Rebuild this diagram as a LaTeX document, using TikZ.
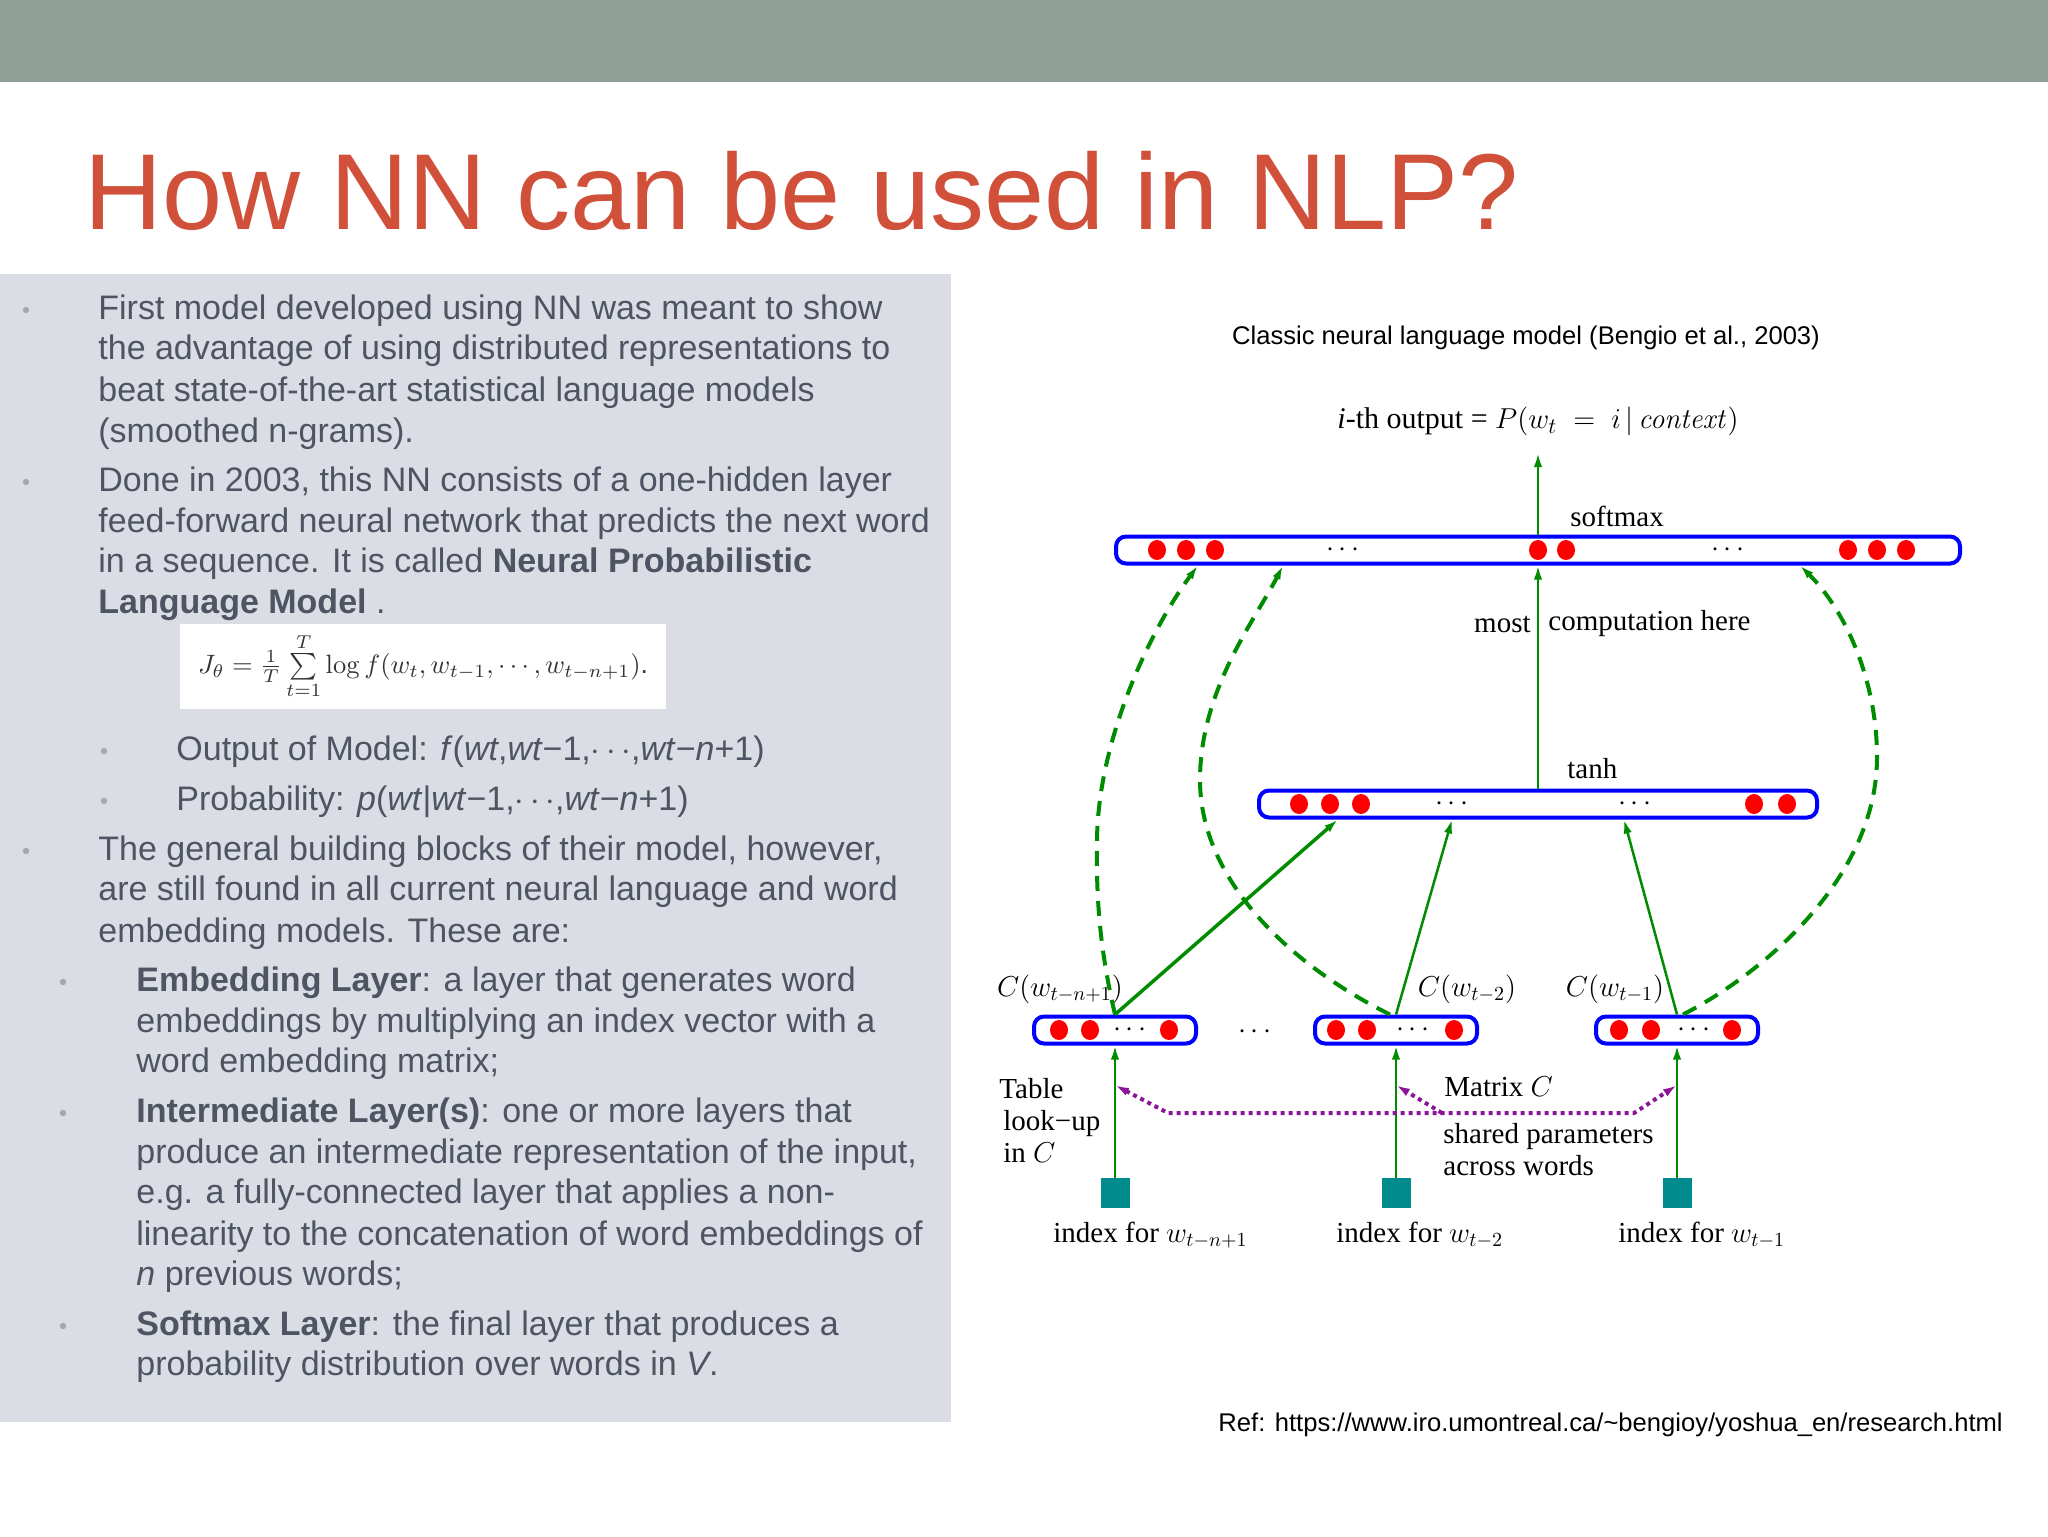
\documentclass[tikz,border=0pt]{standalone}
\usepackage[no-math]{fontspec}
\setmainfont{Liberation Sans}
\newfontfamily\tms{Liberation Serif}
\usepackage{graphicx}
\usetikzlibrary{arrows.meta,positioning,calc}

\definecolor{band}{HTML}{8FA098}
\definecolor{ttl}{HTML}{D0503A}
\definecolor{panel}{HTML}{DADDE4}
\definecolor{bodytxt}{HTML}{4F5462}
\definecolor{bul}{HTML}{A3A9AB}
\definecolor{nngreen}{RGB}{0,140,0}
\definecolor{nnteal}{RGB}{0,140,140}
\definecolor{nnpurple}{RGB}{140,20,150}

\begin{document}
\begin{tikzpicture}[x=0.5pt, y=-0.5pt,
    >={Latex[length=7pt,width=4.2pt]},
    body/.style={anchor=base west, inner sep=0, text=bodytxt, font=\fontsize{17}{20}\selectfont},
    bar/.style={draw=blue, line width=2pt, fill=white, rounded corners=5pt,
                minimum height=13.5pt, inner sep=0},
    idx/.style={fill=nnteal, minimum width=14.5pt, minimum height=15pt, inner sep=0},
    lbl/.style={inner sep=0, font=\tms\fontsize{14.5}{16}\selectfont},
    dts/.style={inner sep=0, font=\fontsize{15}{15}\selectfont},
    arr/.style={->, nngreen, line width=1.25pt},
    direct/.style={arr, line width=2pt, dash pattern=on 7.5pt off 5pt},
    shr/.style={nnpurple, line width=2pt, dash pattern=on 2pt off 2pt},
    neuron/.style={fill=red}
]
\useasboundingbox (0,0) rectangle (2048,1536);
\fill[white] (0,0) rectangle (2048,1536);

% slide frame
\fill[band] (0,0) rectangle (2048,82);
\node[anchor=base west, inner sep=0, text=ttl, font=\fontsize{54}{60}\selectfont] (title)
    at (84,229) {How NN can be used in NLP?};
\fill[panel] (0,274) rectangle (951,1422);

% left column text
\foreach \y/\t [count=\i] in {
    319/{First model developed using NN was meant to show},
    359/{the advantage of using distributed representations to},
    401/{beat state-of-the-art statistical language models},
    442/{(smoothed n-grams).},
    491/{Done in 2003, this NN consists of a one-hidden layer},
    532/{feed-forward neural network that predicts the next word},
    572/{in a sequence. It is called \textbf{Neural Probabilistic}},
    613/{\textbf{Language Model} .},
    860/{The general building blocks of their model, however,},
    900/{are still found in all current neural language and word},
    942/{embedding models. These are:}}
    \node[body] (pa\i) at (98,\y) {\t};
\foreach \y/\t [count=\i] in {
    760/{Output of Model: \textit{f}(\textit{wt},\textit{wt}−1,$\cdots$,\textit{wt}−\textit{n}+1)},
    810/{Probability: \textit{p}(\textit{wt}|\textit{wt}−1,$\cdots$,\textit{wt}−\textit{n}+1)}}
    \node[body] (pb\i) at (176,\y) {\t};
\foreach \y/\t [count=\i] in {
    991/{\textbf{Embedding Layer}: a layer that generates word},
    1032/{embeddings by multiplying an index vector with a},
    1072/{word embedding matrix;},
    1122/{\textbf{Intermediate Layer(s)}: one or more layers that},
    1163/{produce an intermediate representation of the input,},
    1203/{e.g. a fully-connected layer that applies a non-},
    1245/{linearity to the concatenation of word embeddings of},
    1285/{\textit{n} previous words;},
    1335/{\textbf{Softmax Layer}: the final layer that produces a},
    1375/{probability distribution over words in \textit{V}.}}
    \node[body] (pc\i) at (136,\y) {\t};
\foreach \x/\y in {26/310, 26/482, 104/751, 104/801, 26/851, 63/982, 63/1113, 63/1326}
    \fill[bul] (\x,\y) circle [radius=1.6pt];

\node[fill=white, minimum width=243pt, minimum height=42.5pt, inner sep=0, text=black!80] (eq)
    at (423,666) {\resizebox{225pt}{!}{$J_\theta = \frac{1}{T}\sum\limits_{t=1}^{T} \log f(w_t, w_{t-1}, \cdots, w_{t-n+1})$.}};

% network
\node[anchor=base, inner sep=0, font=\fontsize{12.8}{14}\selectfont] (cap)
    at (1526,344) {Classic neural language model (Bengio et al., 2003)};

\node[bar, minimum width=422pt] (smax) at (1538,550) {};
\node[bar, minimum width=279pt] (tanh) at (1538,804) {};
\node[bar, minimum width=81pt] (e1) at (1115,1030) {};
\node[bar, minimum width=81pt] (e2) at (1396,1030) {};
\node[bar, minimum width=81pt] (e3) at (1677,1030) {};

\node[idx] (s1) at (1115,1193) {};
\node[idx] (s2) at (1396,1193) {};
\node[idx] (s3) at (1677,1193) {};

\foreach \x in {1157,1186,1215,1538,1566,1848,1877,1906}
    \fill[neuron] (\x,550) ellipse [x radius=4.5pt, y radius=5pt];
\foreach \x in {1299,1330,1361,1754,1787}
    \fill[neuron] (\x,804) ellipse [x radius=4.5pt, y radius=5pt];
\foreach \x in {1059,1090,1169,1336,1367,1454,1619,1651,1732}
    \fill[neuron] (\x,1030) ellipse [x radius=4.5pt, y radius=5pt];
\foreach \x/\y [count=\i] in {1343/550, 1728/550, 1452/804, 1635/804,
                              1130/1030, 1413/1030, 1694/1030, 1255/1032}
    \node[dts] (dt\i) at (\x,\y) {$\cdots$};

\node[lbl, font=\tms\fontsize{15}{16}\selectfont, outer sep=8.5pt, above=40.75pt of smax] (out)
    {\textit{i}-th output = $P(w_t\;=\;i\,|\,\mathit{context})$};
\node[lbl, anchor=west] (lsm) at (1570,516) {softmax};
\node[lbl, anchor=east] (lmost) at (1531,624) {most};
\node[lbl, anchor=west] (lcomp) at (1548,624) {computation here};
\node[lbl, anchor=west] (ltanh) at (1567,769) {tanh};

\node[lbl] (ce1) at (1060,989) {$C(w_{t-n+1})$};
\node[lbl] (ce2) at (1467,989) {$C(w_{t-2})$};
\node[lbl] (ce3) at (1615,989) {$C(w_{t-1})$};

\node[lbl, align=left, anchor=north west] (tab) at (999,1078) {Table\\ \hspace*{2pt}look−up\\ \hspace*{2pt}in $C$};
\node[lbl, anchor=west] (mtx) at (1444,1087) {Matrix $C$};
\node[lbl, align=left, anchor=north west] (shp) at (1443,1123) {shared parameters\\across words};

\node[lbl, anchor=west] (ix1) at (1053,1235) {index for $w_{t-n+1}$};
\node[lbl, anchor=west] (ix2) at (1336,1235) {index for $w_{t-2}$};
\node[lbl, anchor=west] (ix3) at (1618,1235) {index for $w_{t-1}$};

% connections
\draw[arr] (smax) -- (out);
\draw[arr] (tanh) -- (smax);
\draw[arr, line width=1.75pt] (e1.north) -- ([xshift=-100pt]tanh.south);
\draw[arr] (e2.north) -- ([xshift=-43pt]tanh.south);
\draw[arr] (e3.north) -- ([xshift=43pt]tanh.south);
\draw[arr] (s1) -- (e1);
\draw[arr] (s2) -- (e2);
\draw[arr] (s3) -- (e3);

% direct connections to the output layer
\draw[direct] (e1.north) .. controls (1100,950) and (1096,900) .. (1097,840)
    .. controls (1098,740) and (1150,630) .. ([xshift=-170pt]smax.south);
\draw[direct] ([xshift=-3pt]e2.north) .. controls (1290,965) and (1200,880) .. (1200,780)
    .. controls (1200,690) and (1255,620) .. ([xshift=-127.5pt]smax.south);
\draw[direct] ([xshift=3pt]e3.north) .. controls (1760,975) and (1877,880) .. (1877,757)
    .. controls (1877,680) and (1845,610) .. ([xshift=131pt]smax.south);

% shared matrix C
\coordinate (t1) at ($(e1.south)!.3!(s1.north)$);
\coordinate (t2) at ($(e2.south)!.3!(s2.north)$);
\coordinate (t3) at ($(e3.south)!.3!(s3.north)$);
\coordinate (hl) at (1168,1113);
\coordinate (hm) at (1442,1113);
\coordinate (hr) at (1634,1113);
\draw[shr, <->] (t1) -- (hl) -- (hr) -- (t3);
\draw[shr, ->] (hm) -- (t2);

\node[anchor=base west, inner sep=0, font=\fontsize{12.8}{14}\selectfont] (ref)
    at (1218,1431) {Ref: https://www.iro.umontreal.ca/\textasciitilde bengioy/yoshua\_en/research.html};
\end{tikzpicture}
\end{document}
